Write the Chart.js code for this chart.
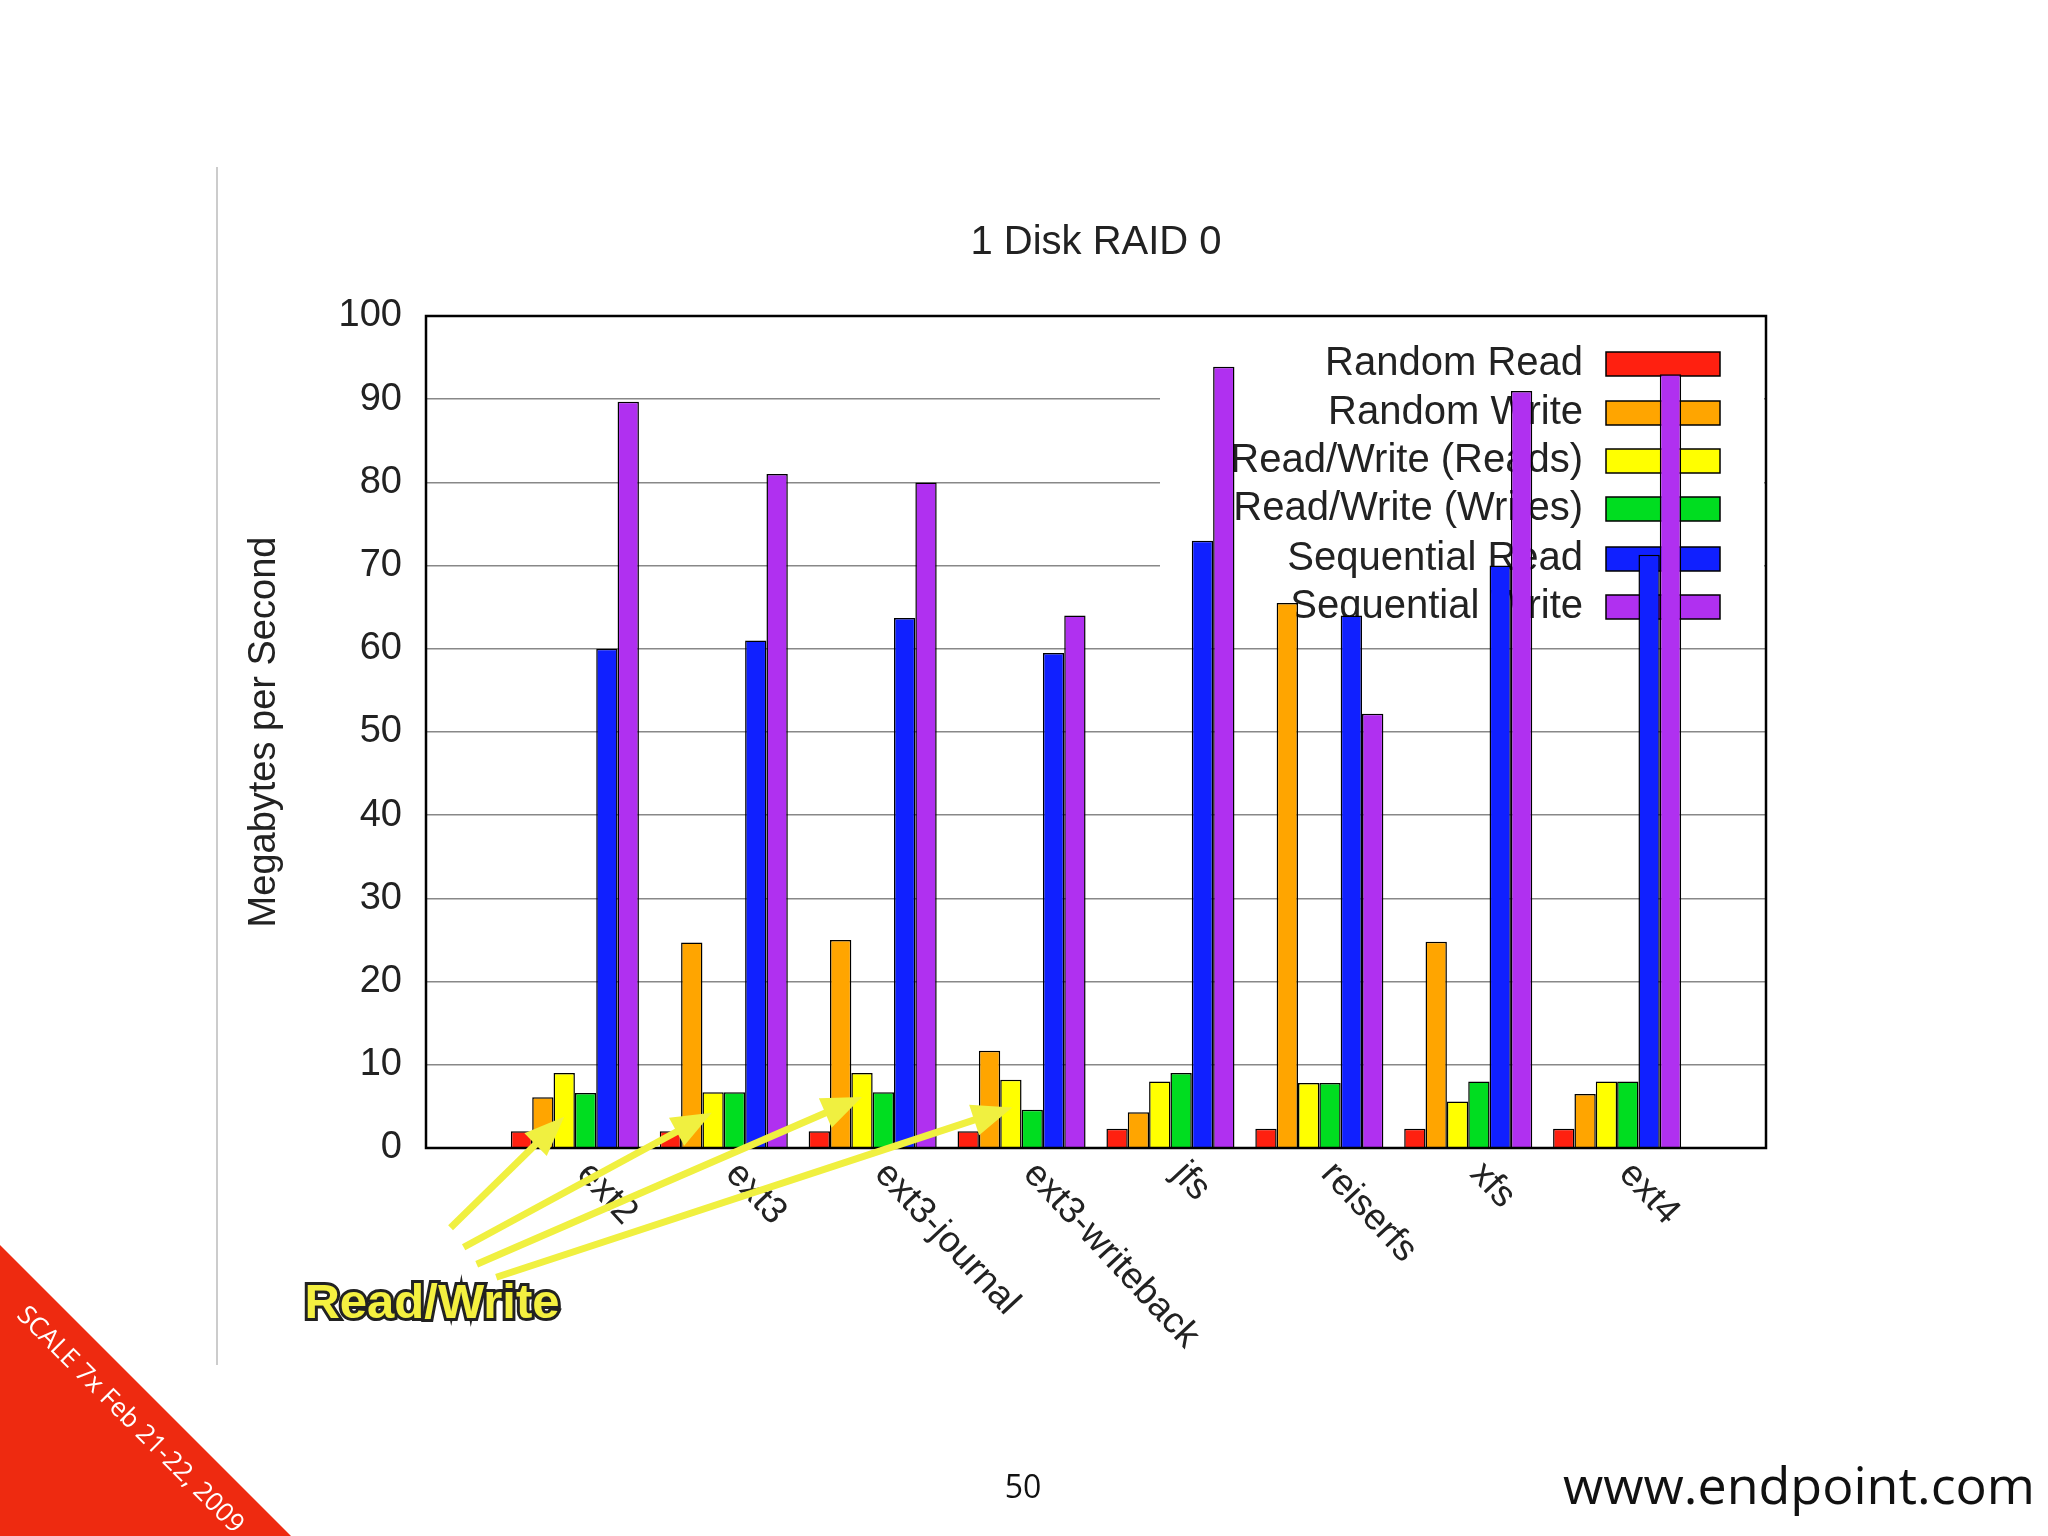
<!DOCTYPE html>
<html><head><meta charset="utf-8">
<script src="https://cdn.jsdelivr.net/npm/chart.js@4"></script>
<style>html,body{margin:0;padding:0;background:#fff}#w{width:2048px;height:1536px}</style>
</head><body><div id="w"><canvas id="c"></canvas></div>
<script>
const categories = ['ext2','ext3','ext3-journal','ext3-writeback','jfs','reiserfs','xfs','ext4'];
const seriesNames = ['Random Read','Random Write','Read/Write (Reads)','Read/Write (Writes)','Sequential Read','Sequential Write'];
const randomRead  = [2.0, 2.0, 2.0, 2.0, 2.3, 2.3, 2.3, 2.3];
const randomWrite = [6.1, 24.7, 25.0, 11.7, 4.3, 65.5, 24.8, 6.5];
const rwReads     = [9.0, 6.7, 9.0, 8.2, 8.0, 7.8, 5.6, 8.0];
const rwWrites    = [6.6, 6.7, 6.7, 4.6, 9.0, 7.8, 8.0, 8.0];
const seqRead     = [60.0, 61.0, 63.7, 59.5, 73.0, 64.0, 70.0, 71.3];
const seqWrite    = [89.7, 81.0, 80.0, 64.0, 93.9, 52.2, 91.0, 93.0];
const yTicks = [0,10,20,30,40,50,60,70,80,90,100];
const colors = ['#ff2010','#ffa500','#ffff00','#00dd20','#1020ff','#b030f0'];
const allSeries = [randomRead, randomWrite, rwReads, rwWrites, seqRead, seqWrite];

const datasets = allSeries.map((s,i)=>({
  label: seriesNames[i],
  data: s.map((v,j)=>({x:j,y:v})),
  backgroundColor: colors[i], borderColor:'#000', borderWidth:1.5,
  categoryPercentage:0.86, barPercentage:1
}));

const deco = {
  id:'deco',
  beforeDatasetsDraw(chart){
    const ctx=chart.ctx, ca=chart.chartArea;
    ctx.save();
    ctx.fillStyle='#fff';
    ctx.fillRect(1160,335,ca.right-1160-2,290);
    ctx.font='40px "Liberation Sans", Arial';
    ctx.textAlign='right'; ctx.textBaseline='middle';
    const ys=[364,413,461,509,559,607];
    seriesNames.forEach((n,i)=>{
      ctx.fillStyle='#222'; ctx.fillText(n,1583,ys[i]);
      ctx.fillStyle=colors[i]; ctx.fillRect(1606,ys[i]-12,114,24);
      ctx.strokeStyle='#000'; ctx.lineWidth=1.5; ctx.strokeRect(1606,ys[i]-12,114,24);
    });
    ctx.restore();
  },
  afterDraw(chart){
    const ctx=chart.ctx, xs=chart.scales.x, ca=chart.chartArea;
    ctx.save();
    ctx.strokeStyle='#000'; ctx.lineWidth=2.5;
    ctx.strokeRect(ca.left,ca.top,ca.right-ca.left,ca.bottom-ca.top);
    ctx.fillStyle='#222'; ctx.font='40px "Liberation Sans", Arial';
    ctx.textAlign='center'; ctx.textBaseline='middle';
    ctx.fillText('1 Disk RAID 0',1096,243);
    ctx.font='38px "Liberation Sans", Arial';
    ctx.save(); ctx.translate(265,732); ctx.rotate(-Math.PI/2);
    ctx.fillText('Megabytes per Second',0,0); ctx.restore();
    ctx.font='37px "Liberation Sans", Arial'; ctx.textAlign='left';
    categories.forEach((c,j)=>{
      const x=xs.getPixelForValue(j);
      ctx.save(); ctx.translate(x+8,ca.bottom+20); ctx.rotate(47*Math.PI/180);
      ctx.fillText(c,0,0); ctx.restore();
    });
    const k=1.306;
    const arr=[[345,940,432,855],[355,955,545,852],[365,968,660,840],[380,978,775,848]];
    ctx.strokeStyle='#f0f040'; ctx.fillStyle='#f0f040'; ctx.lineWidth=7;
    arr.forEach(a=>{
      const x1=a[0]*k,y1=a[1]*k,x2=a[2]*k,y2=a[3]*k;
      const ang=Math.atan2(y2-y1,x2-x1);
      ctx.beginPath(); ctx.moveTo(x1,y1); ctx.lineTo(x2-30*Math.cos(ang),y2-30*Math.sin(ang)); ctx.stroke();
      ctx.beginPath(); ctx.moveTo(x2,y2);
      ctx.lineTo(x2-40*Math.cos(ang)+16*Math.sin(ang), y2-40*Math.sin(ang)-16*Math.cos(ang));
      ctx.lineTo(x2-40*Math.cos(ang)-16*Math.sin(ang), y2-40*Math.sin(ang)+16*Math.cos(ang));
      ctx.closePath(); ctx.fill();
    });
    ctx.font='bold 49px "Liberation Sans", Arial'; ctx.textAlign='center';
    ctx.lineWidth=6; ctx.strokeStyle='#222'; ctx.strokeText('Read/Write',432,1304);
    ctx.fillStyle='#f4f040'; ctx.fillText('Read/Write',432,1304);
    ctx.strokeStyle='#ccc'; ctx.lineWidth=2;
    ctx.beginPath(); ctx.moveTo(217,167); ctx.lineTo(217,1365); ctx.stroke();
    ctx.fillStyle='#ee2a10';
    ctx.beginPath(); ctx.moveTo(0,1245); ctx.lineTo(291,1536); ctx.lineTo(0,1536); ctx.closePath(); ctx.fill();
    ctx.save(); ctx.translate(130,1420); ctx.rotate(Math.PI/4);
    ctx.fillStyle='#fff'; ctx.font='26px "Open Sans", sans-serif'; ctx.textAlign='center';
    ctx.fillText('SCALE 7x Feb 21-22, 2009',0,0); ctx.restore();
    ctx.fillStyle='#111'; ctx.font='32px "Open Sans", sans-serif'; ctx.textAlign='center';
    ctx.fillText('50',1023,1489);
    ctx.font='52px "Open Sans", sans-serif'; ctx.textAlign='right';
    ctx.fillText('www.endpoint.com',2035,1489);
    ctx.restore();
  }
};

new Chart(document.getElementById('c'),{
  type:'bar',
  data:{datasets},
  options:{
    responsive:true, maintainAspectRatio:false, animation:false,
    layout:{padding:{left:0,right:282,top:316,bottom:380}},
    plugins:{legend:{display:false},title:{display:false},tooltip:{enabled:false}},
    scales:{
      x:{type:'linear',min:-1,max:8,offset:false,grid:{display:false},border:{display:false},ticks:{display:false}},
      y:{min:0,max:100,afterFit(s){s.width=426;},
        afterBuildTicks(s){s.ticks=yTicks.map(v=>({value:v}));},
        grid:{color:'#888',lineWidth:1.5,drawTicks:false},border:{display:false},
        ticks:{padding:24,color:'#222',font:{size:38,family:'"Liberation Sans", Arial'}}}
    }
  },
  plugins:[deco]
});
</script></body></html>
